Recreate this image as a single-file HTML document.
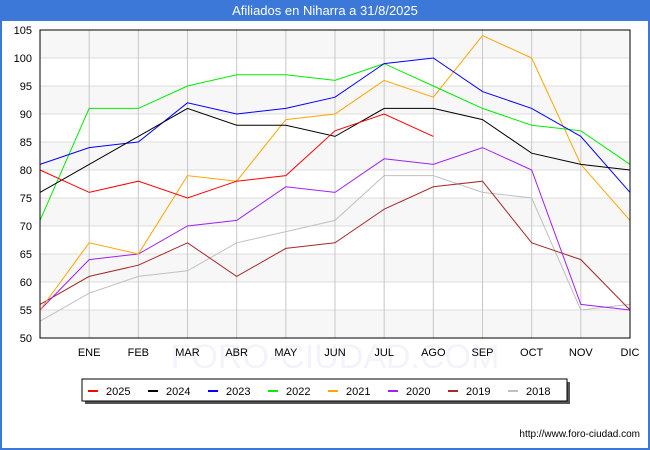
<!DOCTYPE html>
<html><head><meta charset="utf-8"><style>
body{margin:0;width:650px;height:450px;background:#fff;font-family:"Liberation Sans",sans-serif;overflow:hidden;position:relative}
#title{position:absolute;left:0;top:0;width:650px;height:21px;background:#3b78d8;color:#fff;font-size:13px;text-align:center;line-height:22px}
#frame{position:absolute;left:0;top:21px;width:646px;height:427px;border:2px solid #3b78d8;border-top:none}
</style></head><body>
<div id="title">Afiliados en Niharra a 31/8/2025</div>
<div id="frame"></div>
<svg id="chart" width="650" height="450" style="position:absolute;left:0;top:0"></svg>
<script>
const months=["","ENE","FEB","MAR","ABR","MAY","JUN","JUL","AGO","SEP","OCT","NOV","DIC"];
const yTicks=[50,55,60,65,70,75,80,85,90,95,100,105];
const seriesNames=["2025","2024","2023","2022","2021","2020","2019","2018"];
const seriesColors=["#ff0000","#000000","#0000ff","#00ee00","#ffa500","#a020f0","#a52a2a","#c0c0c0"];
const s2025=[80,76,78,75,78,79,87,90,86];
const s2024=[76,81,86,91,88,88,86,91,91,89,83,81,80];
const s2023=[81,84,85,92,90,91,93,99,100,94,91,86,76];
const s2022=[71,91,91,95,97,97,96,99,95,91,88,87,81];
const s2021=[55,67,65,79,78,89,90,96,93,104,100,81,71];
const s2020=[55,64,65,70,71,77,76,82,81,84,80,56,55];
const s2019=[56,61,63,67,61,66,67,73,77,78,67,64,55];
const s2018=[53,58,61,62,67,69,71,79,79,76,75,55,56];
const allSeries=[s2025,s2024,s2023,s2022,s2021,s2020,s2019,s2018];
const svg=document.getElementById('chart');const NS="http://www.w3.org/2000/svg";
const L=40,R=630,T=30,B=338,ymin=50,ymax=105;
const xs=i=>L+(R-L)*i/12;
const ys=v=>B-(v-ymin)/(ymax-ymin)*(B-T);
function mk(t,a,p){const e=document.createElementNS(NS,t);for(const k in a)e.setAttribute(k,a[k]);(p||svg).appendChild(e);return e;}
for(let i=0;i<yTicks.length-1;i++){
 if((yTicks.length-2-i)%2===0){const r=mk('rect',{x:L,y:ys(yTicks[i+1]),width:R-L,height:ys(yTicks[i])-ys(yTicks[i+1]),fill:'#f7f7f7'});
 
 }
}
const wm=mk('text',{x:335,y:368,'text-anchor':'middle','font-size':34,fill:'#f3f4fb'});wm.textContent='FORO-CIUDAD.COM';


yTicks.forEach(v=>{
 const l=mk('line',{x1:L,x2:R,y1:ys(v),y2:ys(v),stroke:'#ddd','stroke-width':1});
 
 
 const t=mk('text',{x:L-8,y:ys(v)+4,'text-anchor':'end','font-size':11,fill:'#000'});t.textContent=v;
 
 
});
months.forEach((m,i)=>{
 if(i>0){const l=mk('line',{x1:xs(i),x2:xs(i),y1:T,y2:B,stroke:'#c8c8c8','stroke-width':1});
 
 }
 const t=mk('text',{x:xs(i),y:B+18,'text-anchor':'middle','font-size':11,fill:'#000'});t.textContent=m;
 
 
});
for(let s=allSeries.length-1;s>=0;s--){
 const pts=allSeries[s].map((v,i)=>xs(i)+','+ys(v)).join(' ');
 const p=mk('polyline',{points:pts,fill:'none',stroke:seriesColors[s],'stroke-width':1});
 
 
}
const ax=mk('rect',{x:L,y:T,width:R-L,height:B-T,fill:'none',stroke:'#000','stroke-width':1});


const sh=mk('rect',{x:85,y:382,width:485,height:22,fill:'#555'});


const lg=mk('rect',{x:82,y:379,width:485,height:22,fill:'#fff',stroke:'#000','stroke-width':1});


seriesNames.forEach((n,i)=>{
 const x0=88+i*60;
 const g=mk('g',{});
 
 
 mk('line',{x1:x0,x2:x0+10,y1:391,y2:391,stroke:seriesColors[i],'stroke-width':2},g);
 const t=mk('text',{x:x0+18,y:395,'font-size':11,fill:'#000'},g);t.textContent=n;
});
const u=mk('text',{x:640,y:437,'text-anchor':'end','font-size':10,fill:'#000'});u.textContent='http://www.foro-ciudad.com';


</script>
</body></html>
